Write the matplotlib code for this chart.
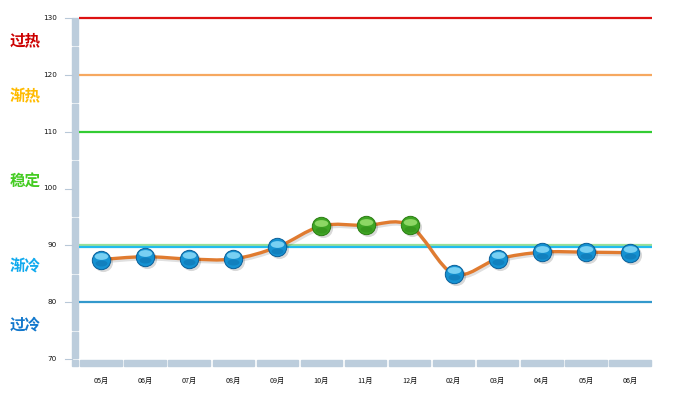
#!/usr/bin/env python3
# market temperature chart: monthly index vs. hot/cold zones

import matplotlib
matplotlib.use("Agg")
import numpy as np
import matplotlib.pyplot as plt
from matplotlib.path import Path
from matplotlib.patches import PathPatch
from matplotlib.transforms import offset_copy, blended_transform_factory

# DATA
months = ["05月", "06月", "07月", "08月", "09月", "10月", "11月", "12月",
          "02月", "03月", "04月", "05月", "06月"]
values = [87.5, 88.0, 87.6, 87.6, 89.7, 93.4, 93.5, 93.5, 85.0, 87.6, 88.8, 88.8, 88.7]

zone_names = ["过热", "渐热", "稳定", "渐冷", "过冷"]
zone_colors = ["#cc0000", "#ffbb00", "#44cc22", "#11aaee", "#1177cc"]
zone_label_y = [126.1, 116.3, 101.1, 86.2, 76.0]

ref_levels = [130, 120, 110, 90, 90, 80]
ref_colors = ["#dd1111", "#f6a860", "#33cc33", "#99e099", "#22bbee", "#3399cc"]

Y_MIN, Y_MAX = 70, 130
BAR = "#bccddc"
CJK = ["Noto Sans CJK SC", "DejaVu Sans"]


def smooth_path(xs, ys, k=1.0 / 6):
    # Catmull-Rom -> cubic bezier
    verts = [(xs[0], ys[0])]
    codes = [Path.MOVETO]
    n = len(xs)
    for i in range(n - 1):
        x0, y0 = (xs[i - 1], ys[i - 1]) if i > 0 else (xs[i], ys[i])
        x1, y1 = xs[i], ys[i]
        x2, y2 = xs[i + 1], ys[i + 1]
        x3, y3 = (xs[i + 2], ys[i + 2]) if i + 2 < n else (x2, y2)
        c1 = (x1 + (x2 - x0) * k, y1 + (y2 - y0) * k)
        c2 = (x2 - (x3 - x1) * k, y2 - (y3 - y1) * k)
        verts += [c1, c2, (x2, y2)]
        codes += [Path.CURVE4] * 3
    return Path(verts, codes)


# flat ellipse marker for the gloss highlight
circ = Path.unit_circle()
ellipse_marker = Path(circ.vertices * np.array([1.0, 0.5]), circ.codes)

fig = plt.figure(figsize=(6.73, 3.99), dpi=100)
ax = fig.add_axes([79 / 673, 1 - 359 / 399, 573 / 673, 341 / 399])
ax.set_xlim(-0.5, len(months) - 0.5)
ax.set_ylim(Y_MIN, Y_MAX)
for s in ax.spines.values():
    s.set_visible(False)
ax.set_xticks([])
ax.set_yticks([])

# reference lines (90 has two: green above, cyan below)
for i, (lv, c) in enumerate(zip(ref_levels, ref_colors)):
    tr = ax.transData
    if i == 4:
        tr = offset_copy(ax.transData, fig=fig, x=0, y=-1.5, units="dots")
    ax.plot([-0.5, len(months) - 0.5], [lv, lv], color=c, lw=1.6, zorder=2,
            transform=tr, solid_capstyle="butt", clip_on=False)

# smooth line with shadow
xs = list(range(len(values)))
path = smooth_path(xs, values)
shadow = offset_copy(ax.transData, fig=fig, x=1.5, y=-2, units="dots")
ax.add_patch(PathPatch(path, fill=False, ec="#000000", alpha=0.12, lw=2.6,
                       transform=shadow, zorder=3))
ax.add_patch(PathPatch(path, fill=False, ec="#e07b30", lw=2.4, zorder=4))

# glossy markers
sh = offset_copy(ax.transData, fig=fig, x=2, y=-2, units="dots")
lo = offset_copy(ax.transData, fig=fig, x=0, y=-3.5, units="dots")
hi = offset_copy(ax.transData, fig=fig, x=0, y=3.5, units="dots")
for x, v in zip(xs, values):
    if v > 90:
        base, dark, light = "#3fa524", "#2a7d12", "#9be070"
    else:
        base, dark, light = "#1592d2", "#0a5f99", "#8adcfa"
    ax.scatter([x], [v], s=190, color="#000000", alpha=0.15, lw=0, zorder=5, transform=sh)
    ax.scatter([x], [v], s=175, color=base, edgecolors=dark, lw=0.7, zorder=6)
    ax.scatter([x], [v], s=75, color=dark, alpha=0.35, lw=0, zorder=7, transform=lo,
               marker=ellipse_marker)
    ax.scatter([x], [v], s=95, color=light, alpha=0.85, lw=0, zorder=8, transform=hi,
               marker=ellipse_marker)

# vertical axis bar with white gaps
px = 1.0 / 573
py_units = (Y_MAX - Y_MIN) / 341.0
tb = blended_transform_factory(ax.transAxes, ax.transData)
bar_edges = [130, 125, 115, 105, 95, 85, 75, 70]
for top, bot in zip(bar_edges[:-1], bar_edges[1:]):
    gap = py_units if top != 130 else 0
    ax.add_patch(plt.Rectangle((-7 * px, bot + py_units), 6 * px, top - bot - gap - py_units,
                               transform=tb, color=BAR, clip_on=False, zorder=1))
ax.add_patch(plt.Rectangle((-7 * px, Y_MIN - 7 * py_units), 6 * px, 6 * py_units,
                           transform=tb, color=BAR, clip_on=False, zorder=1))

# horizontal axis bar with gaps at category boundaries
for i in range(len(months)):
    ax.add_patch(plt.Rectangle((i - 0.5 + 0.03, Y_MIN - 7 * py_units), 0.94, 6.5 * py_units,
                               color=BAR, clip_on=False, zorder=1))
    ax.text(i, Y_MIN - 22 * py_units, months[i], ha="center", va="center",
            fontsize=5.2, family=CJK, color="#111111")

# y ticks and labels
for t in range(Y_MIN, Y_MAX + 1, 10):
    ax.plot([-14 * px, -7 * px], [t, t], color="#b8c8d8", lw=0.8, transform=tb, clip_on=False)
    ax.text(-22 * px, t, str(t), ha="right", va="center", fontsize=5.2,
            family="DejaVu Sans", color="#111111", transform=tb)

# zone labels
for name, c, y in zip(zone_names, zone_colors, zone_label_y):
    ax.text(-69 * px, y, name, ha="left", va="center", fontsize=11.2, fontweight="bold",
            color=c, family=CJK, transform=tb)

fig.savefig("out.png", dpi=100)
